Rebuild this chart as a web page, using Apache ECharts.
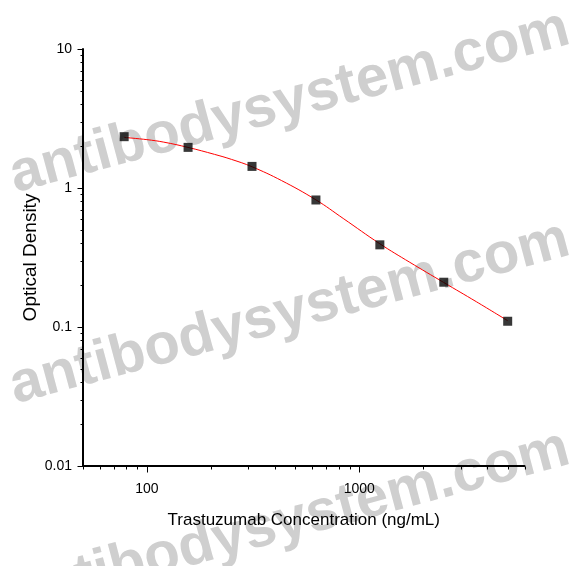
<!DOCTYPE html>
<html>
<head>
<meta charset="utf-8">
<title>Trastuzumab standard curve</title>
<script src="https://cdn.jsdelivr.net/npm/echarts@6.0.0/dist/echarts.min.js"></script>
<style>
  html, body { margin: 0; padding: 0; background: #fff; }
  #chart { width: 585px; height: 566px; }
</style>
</head>
<body>
<div id="chart"></div>
<script>
/* global echarts */

// measured standards
const concentration = [78.125, 156.25, 312.5, 625, 1250, 2500, 5000];
const opticalDensity = [2.34, 1.96, 1.43, 0.82, 0.39, 0.21, 0.11];

// fitted curve
const fitConcentration = [78.125, 100, 120, 156.25, 208, 250, 312.5, 430, 625, 840, 1250, 1730, 2500, 3560, 5000];
const fitDensity = [2.312, 2.228, 2.138, 1.959, 1.746, 1.607, 1.422, 1.132, 0.822, 0.604, 0.397, 0.292, 0.209, 0.152, 0.111];

// axis ticks
const xMajorTicks = [100, 1000];
const xMinorTicks = [50, 60, 70, 80, 90, 200, 300, 400, 500, 600, 700, 800, 900, 2000, 3000, 4000, 5000, 6000];
const yMajorTicks = [0.01, 0.1, 1, 10];
const yMinorTicks = [0.02, 0.03, 0.04, 0.05, 0.06, 0.07, 0.08, 0.09, 0.2, 0.3, 0.4, 0.5, 0.6, 0.7, 0.8, 0.9, 2, 3, 4, 5, 6, 7, 8, 9];

const watermark = 'antibodysystem.com';

const X_MIN = 50;
const X_MAX = 6000;
const Y_MIN = 0.01;
const Y_MAX = 10;
const FONT = '"Liberation Sans", Arial, sans-serif';

function zip (xs, ys) {
  return xs.map((x, i) => [x, ys[i]]);
}

// short tick marks outside the axes, placed through the axis scales
function tickSeries (values, isX, len) {
  return {
    type: 'custom',
    coordinateSystem: 'cartesian2d',
    silent: true,
    clip: false,
    z: 10,
    encode: { x: 0, y: 1 },
    data: values.map(v => (isX ? [v, Y_MIN] : [X_MIN, v])),
    renderItem: function (params, api) {
      const p = api.coord([api.value(0), api.value(1)]);
      const x = Math.round(p[0]) + 0.5;
      const y = Math.round(p[1]) + 0.5;
      const shape = isX
        ? { x1: x, y1: y, x2: x, y2: y + len }
        : { x1: x, y1: y, x2: x - len, y2: y };
      return {
        type: 'line',
        z2: 10,
        shape: shape,
        style: { stroke: '#000', lineWidth: 1, fill: null }
      };
    }
  };
}

function watermarkText (x, y) {
  return {
    type: 'text',
    x: x,
    y: y,
    rotation: 15 * Math.PI / 180,
    z: -10,
    silent: true,
    style: {
      text: watermark,
      fontSize: 58,
      fontWeight: 'bold',
      fontFamily: FONT,
      fill: '#cfcfcf',
      align: 'left',
      verticalAlign: 'middle'
    }
  };
}

const chart = echarts.init(document.getElementById('chart'), null, { renderer: 'canvas' });

const option = {
  animation: false,
  backgroundColor: '#fff',
  graphic: [
    watermarkText(11, 177),
    watermarkText(11, 388),
    watermarkText(11, 597)
  ],
  grid: {
    left: 83,
    right: 60.5,
    top: 49,
    bottom: 100
  },
  xAxis: {
    type: 'log',
    logBase: 10,
    min: X_MIN,
    max: X_MAX,
    name: 'Trastuzumab Concentration (ng/mL)',
    nameLocation: 'middle',
    nameGap: 46,
    nameMoveOverlap: false,
    nameTextStyle: { fontFamily: FONT, fontSize: 17, color: '#000' },
    axisLine: { lineStyle: { color: '#000', width: 2 } },
    axisTick: { show: false },
    splitLine: { show: false },
    axisLabel: {
      showMinLabel: false,
      showMaxLabel: false,
      margin: 16,
      fontFamily: FONT,
      fontSize: 14,
      color: '#000',
      formatter: v => String(Math.round(v))
    }
  },
  yAxis: {
    type: 'log',
    logBase: 10,
    min: Y_MIN,
    max: Y_MAX,
    name: 'Optical Density',
    nameLocation: 'middle',
    nameGap: 43,
    nameMoveOverlap: false,
    nameTextStyle: { fontFamily: FONT, fontSize: 19, color: '#000' },
    axisLine: { lineStyle: { color: '#000', width: 2 } },
    axisTick: { show: false },
    splitLine: { show: false },
    axisLabel: {
      showMinLabel: true,
      showMaxLabel: true,
      margin: 11,
      fontFamily: FONT,
      fontSize: 14,
      color: '#000',
      formatter: v => String(+Number(v).toPrecision(3))
    }
  },
  series: [
    {
      name: 'Fit',
      type: 'line',
      smooth: 0.4,
      symbol: 'none',
      z: 3,
      lineStyle: { color: '#ff0000', width: 1 },
      data: zip(fitConcentration, fitDensity)
    },
    {
      name: 'Standard',
      type: 'scatter',
      symbol: 'rect',
      symbolSize: 9,
      z: 4,
      itemStyle: { color: '#050505' },
      data: zip(concentration, opticalDensity)
    },
    tickSeries(xMinorTicks, true, 3),
    tickSeries(xMajorTicks, true, 6),
    tickSeries(yMinorTicks, false, 3),
    tickSeries(yMajorTicks, false, 6)
  ]
};

chart.setOption(option);
</script>
</body>
</html>
